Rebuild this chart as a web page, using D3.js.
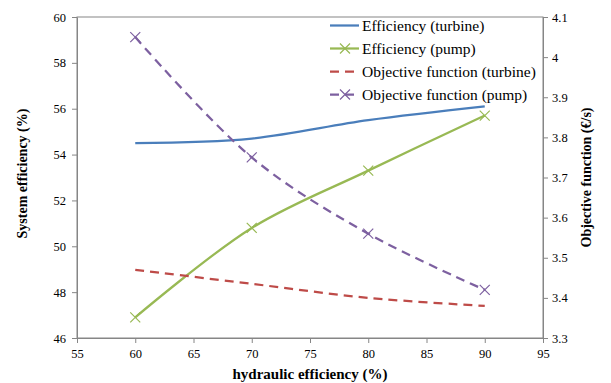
<!DOCTYPE html>
<html>
<head>
<meta charset="utf-8">
<script src="https://cdn.jsdelivr.net/npm/d3@7"></script>
<style>
	body { margin:0; background:#fff; }
</style>
</head>
<body>
<div id="idChart"></div>
<script>
var aHydraulic=[60,70,80,90];
var aEffTurbine=[54.5,54.7,55.5,56.1];
var aEffPump=[46.9,50.8,53.3,55.7];
var aObjTurbine=[3.47,3.435,3.40,3.38];
var aObjPump=[4.05,3.75,3.56,3.42];
var aXTicks=[55,60,65,70,75,80,85,90,95];
var aLeftTicks=[46,48,50,52,54,56,58,60];
var aRightTicks=[3.3,3.4,3.5,3.6,3.7,3.8,3.9,4.0,4.1];

var aSeries=[
	{sName:"Efficiency (turbine)", aVals:aEffTurbine, sAxis:"left", sColor:"#4a7ebb", sDash:null, bMarker:false},
	{sName:"Efficiency (pump)", aVals:aEffPump, sAxis:"left", sColor:"#98b954", sDash:null, bMarker:true},
	{sName:"Objective function (turbine)", aVals:aObjTurbine, sAxis:"right", sColor:"#be4b48", sDash:"9,6", bMarker:false},
	{sName:"Objective function (pump)", aVals:aObjPump, sAxis:"right", sColor:"#7d60a0", sDash:"9,6", bMarker:true}
];

var sFont="'Liberation Serif', 'Times New Roman', serif";
var iWidth=611, iHeight=383;
var iLeft=77, iRight=543, iTop=17, iBottom=338;

var myCanvas=d3.select("#idChart").append("svg")
	.attr("width",iWidth)
	.attr("height",iHeight)
	.style("font-family",sFont);

var xScale=d3.scaleLinear().domain([55,95]).range([iLeft,iRight]);
var yLeft=d3.scaleLinear().domain([46,60]).range([iBottom,iTop]);
var yRight=d3.scaleLinear().domain([3.3,4.1]).range([iBottom,iTop]);

// plot frame
myCanvas.append("rect")
	.attr("x",iLeft).attr("y",iTop)
	.attr("width",iRight-iLeft).attr("height",iBottom-iTop)
	.attr("fill","none").attr("stroke","#868686").attr("stroke-width",1);

function styleAxis(g) {
	g.attr("font-family",null);
	g.select(".domain").attr("stroke","#868686");
	g.selectAll(".tick line").attr("stroke","#868686");
	g.selectAll(".tick text")
		.style("font-size","12.5px")
		.style("font-family",sFont)
		.attr("fill","#000");
}

myCanvas.append("g")
	.attr("transform","translate(0,"+iBottom+")")
	.call(d3.axisBottom(xScale).tickValues(aXTicks).tickSize(5).tickSizeOuter(0).tickPadding(6))
	.call(styleAxis);

myCanvas.append("g")
	.attr("transform","translate("+iLeft+",0)")
	.call(d3.axisLeft(yLeft).tickValues(aLeftTicks).tickSize(5).tickSizeOuter(0).tickPadding(6))
	.call(styleAxis);

myCanvas.append("g")
	.attr("transform","translate("+iRight+",0)")
	.call(d3.axisRight(yRight).tickValues(aRightTicks).tickSize(5).tickSizeOuter(0).tickPadding(4)
		.tickFormat(function(d){ return String(+d.toFixed(1)); }))
	.call(styleAxis);

// axis titles
myCanvas.append("text")
	.attr("x",(iLeft+iRight)/2).attr("y",379)
	.attr("text-anchor","middle")
	.style("font-family",sFont)
	.style("font-size","15px").style("font-weight","bold")
	.text("hydraulic efficiency (%)");

myCanvas.append("text")
	.attr("transform","translate(27,"+((iTop+iBottom)/2-4)+") rotate(-90)")
	.attr("text-anchor","middle")
	.style("font-family",sFont)
	.style("font-size","14px").style("font-weight","bold")
	.text("System efficiency (%)");

myCanvas.append("text")
	.attr("transform","translate(591,"+((iTop+iBottom)/2)+") rotate(-90)")
	.attr("text-anchor","middle")
	.style("font-family",sFont)
	.style("font-size","14px").style("font-weight","bold")
	.text("Objective function (€/s)");

// series
aSeries.forEach(function(oSeries){
	var yScale = oSeries.sAxis=="left" ? yLeft : yRight;
	var aPts = aHydraulic.map(function(x,i){ return [xScale(x), yScale(oSeries.aVals[i])]; });
	var myLine = d3.line().curve(d3.curveCatmullRom.alpha(0.5));

	myCanvas.append("path")
		.attr("d",myLine(aPts))
		.attr("fill","none")
		.attr("stroke",oSeries.sColor)
		.attr("stroke-width",2.25)
		.attr("stroke-dasharray",oSeries.sDash);

	if(oSeries.bMarker) {
		myCanvas.selectAll(null)
			.data(aPts)
			.enter()
			.append("path")
				.attr("d",function(p){ return "M"+(p[0]-5)+","+(p[1]-5)+"L"+(p[0]+5)+","+(p[1]+5)+"M"+(p[0]-5)+","+(p[1]+5)+"L"+(p[0]+5)+","+(p[1]-5); })
				.attr("stroke",oSeries.sColor)
				.attr("stroke-width",1.2)
				.attr("fill","none");
	}
});

// legend
var myLegend=myCanvas.append("g").attr("transform","translate(330,25.5)");
aSeries.forEach(function(oSeries,i){
	var iY=i*23;
	myLegend.append("line")
		.attr("x1",0).attr("x2",29).attr("y1",iY).attr("y2",iY)
		.attr("stroke",oSeries.sColor).attr("stroke-width",2.25)
		.attr("stroke-dasharray",oSeries.sDash ? "9,6" : null);
	if(oSeries.bMarker) {
		myLegend.append("path")
			.attr("d","M10,"+(iY-5)+"L20,"+(iY+5)+"M10,"+(iY+5)+"L20,"+(iY-5))
			.attr("stroke",oSeries.sColor).attr("stroke-width",1.2);
	}
	myLegend.append("text")
		.attr("x",32).attr("y",iY+5.3)
		.style("font-family",sFont)
		.style("font-size","15.5px")
		.text(oSeries.sName);
});
</script>
</body>
</html>
